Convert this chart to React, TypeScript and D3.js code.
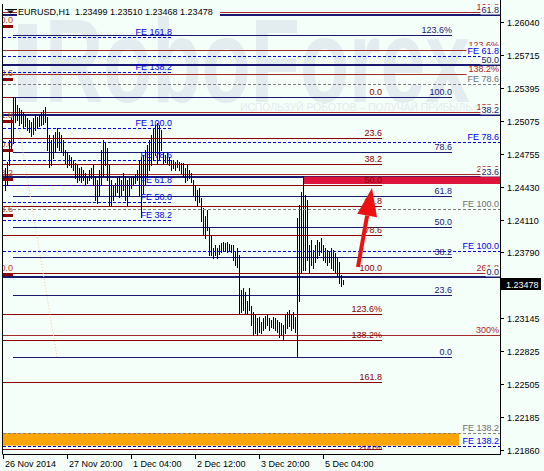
import React from "react";
import * as d3 from "d3";

const W = 544;
const H = 471;
const BG = "#F5FFFA";
const FONT = '"Liberation Sans", Arial, sans-serif';
const FS = 9;

const NAVY = "#191970";
const DRED = "#8b0000";
const RED2 = "#a52a2a";
const BLUE = "#0000ee";
const GREY = "#808080";

const titleText = "EURUSD,H1  1.23499 1.23510 1.23468 1.23478";
const lastClose = 1.23478;

// H1 bars, 26 Nov 2014 .. 5 Dec 2014
const barHigh = [
  1.2461, 1.2467, 1.2489, 1.251, 1.2531, 1.253, 1.2523, 1.252, 1.2518, 1.2516,
  1.2513, 1.251, 1.2508, 1.2506, 1.251, 1.2513, 1.2511, 1.2513, 1.2516, 1.2518,
  1.2521, 1.2511, 1.2494, 1.2489, 1.2494, 1.2497, 1.25, 1.2497, 1.2494, 1.2489,
  1.2479, 1.2477, 1.2474, 1.2472, 1.2469, 1.2466, 1.2464, 1.2461, 1.2462, 1.2459,
  1.2457, 1.2454, 1.2459, 1.2461, 1.2464, 1.2454, 1.245, 1.2459, 1.2479, 1.2489,
  1.2487, 1.2481, 1.2464, 1.245, 1.2445, 1.2447, 1.2452, 1.2454, 1.245, 1.2457,
  1.2454, 1.245, 1.2452, 1.2454, 1.2454, 1.2456, 1.2459, 1.2469, 1.2472, 1.2474,
  1.2479, 1.2484, 1.2489, 1.2494, 1.25, 1.2503, 1.2505, 1.2503, 1.2499, 1.2476,
  1.2474, 1.2476, 1.2472, 1.2469, 1.2469, 1.2467, 1.2469, 1.2467, 1.2466, 1.2466,
  1.2461, 1.2464, 1.2459, 1.2457, 1.245, 1.2445, 1.244, 1.2442, 1.2432, 1.2422,
  1.2415, 1.242, 1.2403, 1.2396, 1.2383, 1.2386, 1.2383, 1.2386, 1.2388, 1.2389,
  1.2388, 1.2389, 1.2387, 1.2386, 1.2386, 1.2379, 1.2383, 1.2376, 1.2342, 1.2344,
  1.234, 1.2332, 1.2344, 1.2327, 1.2321, 1.2318, 1.2315, 1.2316, 1.2311, 1.2315,
  1.2317, 1.2318, 1.2315, 1.2313, 1.2316, 1.2315, 1.2313, 1.2311, 1.231, 1.2308,
  1.2318, 1.2321, 1.2323, 1.2318, 1.2321, 1.2316, 1.2413, 1.2425, 1.2438, 1.2454,
  1.2435, 1.243, 1.2386, 1.2391, 1.2381, 1.2386, 1.2391, 1.2389, 1.2393, 1.2386,
  1.2383, 1.2381, 1.2379, 1.2383, 1.2381, 1.2378, 1.2374, 1.237, 1.2357, 1.2352,
];
const barLow = [
  1.244, 1.2445, 1.2464, 1.2479, 1.2486, 1.2506, 1.2508, 1.2503, 1.2505, 1.25,
  1.2502, 1.2499, 1.2497, 1.2493, 1.2495, 1.2499, 1.25, 1.2502, 1.2503, 1.2504,
  1.2506, 1.2479, 1.2462, 1.2464, 1.2471, 1.2477, 1.2482, 1.2479, 1.2477, 1.2474,
  1.2466, 1.2462, 1.2464, 1.2462, 1.2459, 1.2452, 1.2448, 1.245, 1.2448, 1.245,
  1.2445, 1.2447, 1.245, 1.2452, 1.2445, 1.243, 1.2427, 1.2435, 1.2445, 1.2454,
  1.2464, 1.245, 1.2425, 1.2425, 1.243, 1.2435, 1.2438, 1.2433, 1.2435, 1.244,
  1.243, 1.2425, 1.2435, 1.2442, 1.2445, 1.2447, 1.245, 1.2435, 1.2414, 1.2437,
  1.2445, 1.2454, 1.2459, 1.2464, 1.2469, 1.2474, 1.2466, 1.2469, 1.2479, 1.2466,
  1.2467, 1.2466, 1.2464, 1.2459, 1.2461, 1.2459, 1.2462, 1.2459, 1.2457, 1.2454,
  1.2448, 1.245, 1.2452, 1.2448, 1.2435, 1.243, 1.2425, 1.2428, 1.241, 1.2396,
  1.2393, 1.2401, 1.2376, 1.2376, 1.2374, 1.2376, 1.2374, 1.2377, 1.2379, 1.2381,
  1.2381, 1.2379, 1.2381, 1.2379, 1.2372, 1.2367, 1.2365, 1.232, 1.2321, 1.2323,
  1.232, 1.232, 1.2323, 1.2308, 1.2298, 1.23, 1.2298, 1.2301, 1.23, 1.2303,
  1.2305, 1.2308, 1.2303, 1.2306, 1.2305, 1.2303, 1.2301, 1.2296, 1.2298, 1.2293,
  1.23, 1.2305, 1.2307, 1.2303, 1.2305, 1.2301, 1.2277, 1.2332, 1.2359, 1.2362,
  1.2362, 1.2372, 1.2359, 1.2367, 1.2364, 1.237, 1.2374, 1.2376, 1.2379, 1.2372,
  1.237, 1.2367, 1.237, 1.2364, 1.2362, 1.236, 1.2356, 1.2349, 1.2346, 1.2348,
];

const yTicks = [1.2604, 1.25715, 1.25395, 1.25075, 1.24755, 1.2443, 1.2411, 1.2379, 1.23145, 1.22825, 1.22505, 1.22185, 1.2186];
const xTickLabels = ["26 Nov 2014", "27 Nov 20:00", "1 Dec 04:00", "2 Dec 12:00", "3 Dec 20:00", "5 Dec 04:00"];
const xTickBars = [-1, 31, 63, 95, 127, 159];

// Fibonacci objects: anchors = [price at 0%, price at 100%], span = bar indices
const navyRetAnchors = [1.2277, 1.2531];
const navyRetLevels = [0, 23.6, 38.2, 50, 61.8, 78.6, 100, 123.6];
const navyRetLabels = ["0.0", "23.6", "38.2", "50.0", "61.8", "78.6", "100.0", "123.6%"];
const navyRetSpan = [4, 223.5];

const redRetAnchors = [1.2531, 1.2359];
const redRetLevels = [0, 23.6, 38.2, 50, 61.8, 78.6, 100, 123.6, 138.2, 161.8, 200];
const redRetLabels = ["0.0", "23.6", "38.2", "50.0", "61.8", "78.6", "100.0", "123.6%", "138.2%", "161.8", "200%"];
const redRetSpan = [-1, 188.5];

const navyThickAnchors = [1.23552, 1.27691];
const navyThickLevels = [0, 23.6, 38.2, 50, 61.8];
const navyThickLabels = ["0.0", "23.6", "38.2", "50.0", "61.8"];

const redExpAnchors = [1.27708, 1.26134];
const redExpLevels = [100, 123.6, 138.2, 161.8, 200, 261.8, 300];
const redExpLabels = ["161.8", "123.6%", "138.2%", "138.2", "223.6", "261.8", "300%"];

const feLeftAnchors = [1.23553, 1.25002];
const feLeftLevels = [38.2, 50, 61.8, 78.6, 100, 138.2, 161.8];
const feLeftLabels = ["FE 38.2", "FE 50.0", "FE 61.8", "FE 78.6", "FE 100.0", "FE 138.2", "FE 161.8"];
const feLeftSpan = [-1, 83.5];

const feRightAnchors = [1.28777, 1.23803];
const feRightLevels = [61.8, 78.6, 100, 138.2];
const feRightLabels = ["FE 61.8", "FE 78.6", "FE 100.0", "FE 138.2"];

const feGreyAnchors = [1.29941, 1.242136];
const feGreyLevels = [78.6, 100, 138.2];
const feGreyLabels = ["FE 78.6", "FE 100.0", "FE 138.2"];

const leftFibAnchors = [1.23579, 1.26001];
const leftFibLevels = [0, 23.6, 38.2, 50, 61.8, 78.6, 100];
const leftFibLabels = ["0.0", "23.6", "38.2", "50.0", "61.8", "78.6", "100.0"];
const leftFibSpan = [-1, 4];

const boxPrices = [1.2453, 1.24458];
const boxSpan = [149.5, 247.5];
const bandSpan = [-1, 227];
const arrowFrom = [176.5, 1.23647];
const arrowTo = [183.5, 1.24419];
const trendFrom = [6.75, 1.25034];
const trendTo = [26, 1.22768];

const watermark = "RoboForex";
const watermarkSub = "ИСПОЛЬЗУЙ РОБОТОВ – ПОЛУЧАЙ ПРИБЫЛЬ";

let ctx: CanvasRenderingContext2D | null = null;
function tw(s: string, size = FS): number {
  if (!ctx && typeof document !== "undefined") ctx = document.createElement("canvas").getContext("2d");
  if (!ctx) return s.length * size * 0.55;
  ctx.font = `${size}px "Liberation Sans"`;
  return ctx.measureText(s).width;
}

const lvl = (a: number[], L: number) => a[0] + ((a[1] - a[0]) * L) / 100;

export default function App() {
  const x = d3.scaleLinear().domain([-1, 247.5]).range([3, 500]);
  const y = d3.scaleLinear().domain([1.2186, 1.2604]).range([450, 22]);
  const cy = (p: number) => Math.round(y(p)) + 0.5;
  const X0 = 3;
  const X1 = 500;

  const hline = (p: number, x0: number, x1: number, color: string, sw = 1, dash?: string, key?: string) => (
    <line key={key} x1={x0} x2={x1} y1={sw % 2 === 0 ? Math.round(y(p)) : cy(p)} y2={sw % 2 === 0 ? Math.round(y(p)) : cy(p)} stroke={color} strokeWidth={sw} strokeDasharray={dash} />
  );

  const rightLabel = (txt: string, p: number, color: string, bg: boolean, key: string, xr = 499, dy = 2) => {
    const w = tw(txt);
    const base = Math.round(y(p)) - dy;
    return (
      <g key={key}>
        {bg && <rect x={xr - w - 1} y={base - 8} width={w + 2} height={9.5} fill={BG} />}
        <text x={xr} y={base} textAnchor="end" fill={color}>{txt}</text>
      </g>
    );
  };

  // arrow geometry
  const ax0 = x(arrowFrom[0]), ay0 = y(arrowFrom[1]);
  const ax1 = x(arrowTo[0]), ay1 = y(arrowTo[1]);
  const len = Math.hypot(ax1 - ax0, ay1 - ay0);
  const ux = (ax1 - ax0) / len, uy = (ay1 - ay0) / len;
  const nx = -uy, ny = ux;
  const headL = 28, headW = 10;
  const bx = ax1 - headL * ux, by = ay1 - headL * uy;

  const bandTop = y(lvl(feGreyAnchors, 138.2));
  const bandBot = y(lvl(feRightAnchors, 138.2));

  return (
    <svg width={W} height={H} style={{ position: "absolute", left: 0, top: 0, fontFamily: FONT, fontSize: FS }}>
      <defs>
        <clipPath id="plot"><rect x={X0} y={0} width={X1 - X0} height={454} /></clipPath>
      </defs>
      <rect x={0} y={0} width={W} height={H} fill={BG} />

      {/* watermark */}
      <g fill="#e3ecee">
        <rect x={18} y={24} width={19} height={78} />
        <text x={45} y={102} fontSize={118} fontWeight="bold" textLength={425} lengthAdjust="spacingAndGlyphs">{watermark}</text>
      </g>
      <text x={240} y={111} fontSize={10} fill="#e3ebed" textLength={232} lengthAdjust="spacingAndGlyphs">{watermarkSub}</text>

      <g clipPath="url(#plot)">
        {/* thick navy retracement (full width) */}
        {navyThickLevels.map((L, i) => hline(lvl(navyThickAnchors, L), X0, X1, NAVY, 2, undefined, "nt" + i))}
        {/* red expansion (full width) */}
        {redExpLevels.map((L, i) => hline(lvl(redExpAnchors, L), X0, X1, RED2, 1, undefined, "re" + i))}
        {/* crimson box */}
        <rect x={x(boxSpan[0])} y={y(boxPrices[0])} width={x(boxSpan[1]) - x(boxSpan[0])} height={y(boxPrices[1]) - y(boxPrices[0])} fill="#dc143c" />
        {/* red retracement */}
        {redRetLevels.map((L, i) => hline(lvl(redRetAnchors, L), x(redRetSpan[0]), x(redRetSpan[1]), DRED, 1, undefined, "rr" + i))}
        {/* navy retracement */}
        {navyRetLevels.map((L, i) => hline(lvl(navyRetAnchors, L), x(navyRetSpan[0]), x(navyRetSpan[1]), NAVY, 1, undefined, "nr" + i))}
        {/* left stub fib */}
        {leftFibLevels.map((L, i) => hline(lvl(leftFibAnchors, L), x(leftFibSpan[0]), x(leftFibSpan[1]), DRED, 3, undefined, "lf" + i))}
        {leftFibLevels.map((L, i) => (
          <text key={"lfl" + i} x={x(leftFibSpan[1])} y={Math.round(y(lvl(leftFibAnchors, L))) - 3} textAnchor="end" fill="#b0401a">{leftFibLabels[i]}</text>
        ))}

        {/* trend line */}
        <line x1={x(trendFrom[0])} y1={y(trendFrom[1])} x2={x(trendTo[0])} y2={y(trendTo[1])} stroke="#f5c49a" strokeWidth={1} strokeDasharray="1,2" />

        {/* price bars */}
        {barHigh.map((h, i) => (
          <line key={"b" + i} x1={Math.round(x(i)) + 0.5} x2={Math.round(x(i)) + 0.5} y1={Math.round(y(h))} y2={Math.round(y(barLow[i])) + 1} stroke="#000" strokeWidth={1} />
        ))}

        {/* red retracement labels */}
        {redRetLevels.map((L, i) => rightLabel(redRetLabels[i], lvl(redRetAnchors, L), DRED, false, "rrl" + i, x(redRetSpan[1]), L === 200 ? -1 : 2))}

        {/* orange zone */}
        <rect x={x(bandSpan[0])} y={bandTop} width={x(bandSpan[1]) - x(bandSpan[0])} height={bandBot - bandTop} fill="#ffa500" />

        {/* dashed FE lines */}
        {feLeftLevels.map((L, i) => hline(lvl(feLeftAnchors, L), x(feLeftSpan[0]), x(feLeftSpan[1]), BLUE, 1, "3,2", "fl" + i))}
        {feRightLevels.map((L, i) => hline(lvl(feRightAnchors, L), X0, X1, BLUE, 1, "3,2", "fr" + i))}
        {feGreyLevels.map((L, i) => hline(lvl(feGreyAnchors, L), X0, X1, GREY, 1, "3,2", "fg" + i))}

        {/* labels */}
        {navyRetLevels.map((L, i) => rightLabel(navyRetLabels[i], lvl(navyRetAnchors, L), NAVY, false, "nrl" + i, x(navyRetSpan[1])))}
        {feLeftLevels.map((L, i) => rightLabel(feLeftLabels[i], lvl(feLeftAnchors, L), BLUE, false, "fll" + i, x(feLeftSpan[1])))}
        {redExpLevels.map((L, i) => rightLabel(redExpLabels[i], lvl(redExpAnchors, L), "#b22222", false, "rel" + i))}
        {feRightLevels.map((L, i) => rightLabel(feRightLabels[i], lvl(feRightAnchors, L), BLUE, true, "frl" + i))}
        {feGreyLevels.map((L, i) => rightLabel(feGreyLabels[i], lvl(feGreyAnchors, L), "#6e6e6e", true, "fgl" + i))}
        {navyThickLevels.map((L, i) => rightLabel(navyThickLabels[i], lvl(navyThickAnchors, L), NAVY, true, "ntl" + i))}

        {/* arrow */}
        <line x1={ax0} y1={ay0} x2={bx} y2={by} stroke="#ee1111" strokeWidth={4} />
        <polygon points={`${ax1},${ay1} ${bx + headW * nx},${by + headW * ny} ${bx - headW * nx},${by - headW * ny}`} fill="#ee1111" />
      </g>

      {/* title */}
      <rect x={17} y={3} width={203} height={13} fill={BG} />
      <line x1={5} x2={17} y1={9.5} y2={9.5} stroke="#000" />
      <polygon points="7,10.5 14,10.5 10.5,13.5" fill="#000" />
      <text x={18} y={15} fill="#000" style={{ whiteSpace: "pre" }}>{titleText}</text>

      {/* axes */}
      <line x1={2.5} x2={2.5} y1={4} y2={454} stroke="#000" />
      <line x1={500.5} x2={500.5} y1={0} y2={455} stroke="#000" />
      <line x1={2.5} x2={500.5} y1={454.5} y2={454.5} stroke="#000" />
      {yTicks.map((t, i) => (
        <g key={"yt" + i}>
          <line x1={501} x2={504} y1={cy(t)} y2={cy(t)} stroke="#000" />
          <text x={507} y={Math.round(y(t)) + 3.5} fill="#000">{t.toFixed(5)}</text>
        </g>
      ))}
      <rect x={501} y={Math.round(y(lastClose)) - 6} width={40} height={12} fill="#000" />
      <text x={506} y={Math.round(y(lastClose)) + 3.5} fill="#fff">{lastClose.toFixed(5)}</text>
      {xTickBars.map((b, i) => (
        <g key={"xt" + i}>
          <line x1={Math.round(x(b)) + 0.5} x2={Math.round(x(b)) + 0.5} y1={455} y2={459} stroke="#000" />
          <text x={Math.round(x(b)) + 2} y={467} fill="#000">{xTickLabels[i]}</text>
        </g>
      ))}
    </svg>
  );
}
